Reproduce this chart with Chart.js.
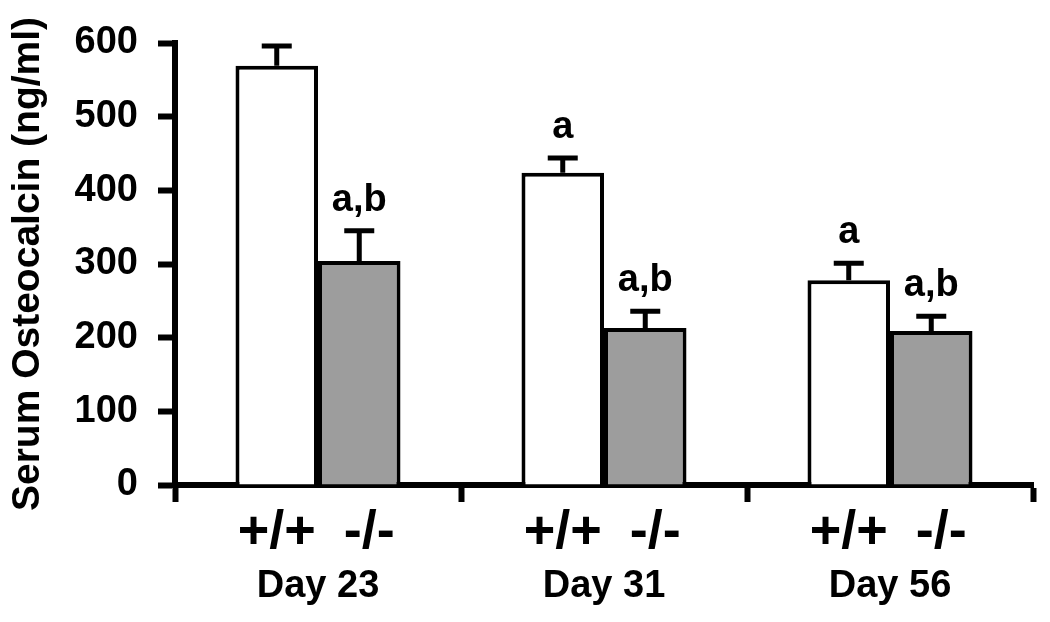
<!DOCTYPE html>
<html>
<head>
<meta charset="utf-8">
<script src="https://cdn.jsdelivr.net/npm/chart.js@4.4.1/dist/chart.umd.min.js"></script>
<style>
  html, body { margin: 0; padding: 0; background: #fff; }
</style>
</head>
<body>
<canvas id="chart" width="1050" height="622"></canvas>
<script>
// values
const days = ["Day 23", "Day 31", "Day 56"];
const genotypes = ["+/+", "-/-"];
const wildType = [569, 424, 278];
const wildTypeErr = [27, 20, 23];
const knockout = [304, 213, 209];
const knockoutErr = [41, 23, 20];
const wildTypeMarks = ["", "a", "a"];
const knockoutMarks = ["a,b", "a,b", "a,b"];
const yMin = 0, yMax = 600, yStep = 100;

const FONT = '"Liberation Sans", Arial, sans-serif';

// upward-only error bars, significance letters and genotype labels under bars
const errorBars = {
  id: "errorBars",
  afterDatasetsDraw(chart) {
    const ctx = chart.ctx;
    const y = chart.scales.y;
    const x = chart.scales.x;
    chart.data.datasets.forEach((ds, i) => {
      const meta = chart.getDatasetMeta(i);
      meta.data.forEach((bar, j) => {
        const top = y.getPixelForValue(ds.data[j] + ds.errors[j]);
        ctx.save();
        ctx.strokeStyle = "#000";
        ctx.lineWidth = 5;
        ctx.beginPath();
        ctx.moveTo(bar.x, bar.y);
        ctx.lineTo(bar.x, top);
        ctx.moveTo(bar.x - 15, top);
        ctx.lineTo(bar.x + 15, top);
        ctx.stroke();

        ctx.fillStyle = "#000";
        ctx.textAlign = "center";
        ctx.textBaseline = "alphabetic";
        if (ds.marks[j]) {
          ctx.font = "bold 38px " + FONT;
          ctx.fillText(ds.marks[j], bar.x, top - 20);
        }
        // second genotype sits a little right of its bar in the original
        ctx.font = "bold 54px " + FONT;
        ctx.fillText(ds.label, bar.x + (i === 1 ? 10 : 0), x.top + 63);
        ctx.restore();
      });
    });
  }
};

new Chart(document.getElementById("chart"), {
  type: "bar",
  data: {
    labels: days,
    datasets: [
      {
        label: genotypes[0],
        data: wildType,
        errors: wildTypeErr,
        marks: wildTypeMarks,
        backgroundColor: "#ffffff",
        borderColor: "#000000",
        borderWidth: 4,
        borderSkipped: "bottom"
      },
      {
        label: genotypes[1],
        data: knockout,
        errors: knockoutErr,
        marks: knockoutMarks,
        backgroundColor: "#9d9d9d",
        borderColor: "#000000",
        borderWidth: 4,
        borderSkipped: "bottom"
      }
    ]
  },
  options: {
    responsive: false,
    animation: false,
    categoryPercentage: 0.577,
    barPercentage: 1,
    layout: { padding: { top: 43, right: 17, left: 0, bottom: 0 } },
    plugins: {
      legend: { display: false },
      tooltip: { enabled: false }
    },
    scales: {
      x: {
        offset: true,
        afterFit: (s) => { s.height = 137; },
        grid: {
          offset: true,
          drawOnChartArea: false,
          drawTicks: true,
          tickLength: 17,
          tickWidth: 6,
          tickColor: "#000"
        },
        border: { display: true, width: 6, color: "#000" },
        ticks: {
          color: "#000",
          padding: 62,
          font: { family: FONT, size: 38, weight: "bold" }
        }
      },
      y: {
        min: yMin,
        max: yMax,
        afterFit: (s) => { s.width = 175; },
        grid: {
          drawOnChartArea: false,
          drawTicks: true,
          tickLength: 17,
          tickWidth: 6,
          tickColor: "#000"
        },
        border: { display: true, width: 6, color: "#000" },
        ticks: {
          stepSize: yStep,
          color: "#000",
          padding: 20,
          font: { family: FONT, size: 38, weight: "bold" }
        },
        title: {
          display: true,
          text: "Serum Osteocalcin (ng/ml)",
          color: "#000",
          padding: { top: 5, bottom: 0 },
          font: { family: FONT, size: 39, weight: "bold" }
        }
      }
    }
  },
  plugins: [errorBars]
});
</script>
</body>
</html>
